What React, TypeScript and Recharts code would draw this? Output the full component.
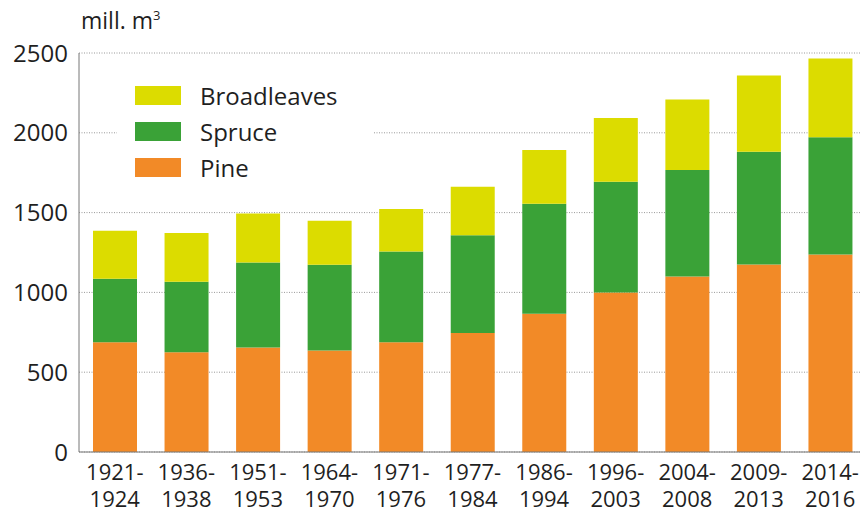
import { Bar, BarChart, CartesianGrid, XAxis, YAxis } from "recharts";

const periods = [
  "1921-1924",
  "1936-1938",
  "1951-1953",
  "1964-1970",
  "1971-1976",
  "1977-1984",
  "1986-1994",
  "1996-2003",
  "2004-2008",
  "2009-2013",
  "2014-2016",
];

// million m3 per species
const pine = [688, 625, 654, 636, 688, 746, 866, 999, 1100, 1175, 1238];
const spruce = [397, 441, 534, 537, 569, 612, 690, 695, 667, 707, 734];
const broadleaves = [301, 306, 307, 276, 266, 304, 337, 398, 441, 477, 493];

const yTicks = [0, 500, 1000, 1500, 2000, 2500];

const COLORS = {
  pine: "#F28A27",
  spruce: "#3AA237",
  broadleaves: "#DCDC00",
};

const FONT = "'Open Sans', sans-serif";
const TEXT = "#1f1f1f";

const data = periods.map((p, i) => ({
  period: p,
  pine: pine[i],
  spruce: spruce[i],
  broadleaves: broadleaves[i],
}));

const legendItems = [
  { key: "broadleaves", label: "Broadleaves" },
  { key: "spruce", label: "Spruce" },
  { key: "pine", label: "Pine" },
];

const PeriodTick = ({ x, y, payload }: any) => {
  const [a, b] = String(payload.value).split("-");
  return (
    <text
      x={x}
      y={y}
      textAnchor="middle"
      fill={TEXT}
      fontFamily={FONT}
      fontSize={22}
    >
      <tspan x={x} dy={20}>
        {a}-
      </tspan>
      <tspan x={x} dy={27}>
        {b}
      </tspan>
    </text>
  );
};

// legend box sits over the plot and hides the 2000 gridline behind it
const SpeciesLegend = () => (
  <div
    style={{
      position: "absolute",
      left: 117,
      top: 70,
      width: 257,
      height: 125,
      paddingTop: 8,
      boxSizing: "border-box",
      background: "#fff",
      zIndex: 2,
    }}
  >
    {legendItems.map((item) => (
      <div
        key={item.key}
        style={{
          display: "flex",
          alignItems: "center",
          height: 35.7,
          fontFamily: FONT,
          fontSize: 24,
          color: TEXT,
        }}
      >
        <span
          style={{
            display: "inline-block",
            width: 46,
            height: 19,
            marginLeft: 18,
            marginRight: 19,
            background: COLORS[item.key],
          }}
        />
        {item.label}
      </div>
    ))}
  </div>
);

export default function App() {
  return (
    <div
      style={{
        position: "absolute",
        left: 0,
        top: 0,
        width: 860,
        height: 513,
        overflow: "hidden",
        background: "#fff",
      }}
    >
      <div
        style={{
          position: "absolute",
          left: 81,
          top: 4,
          fontFamily: FONT,
          fontSize: 23,
          color: TEXT,
          zIndex: 2,
        }}
      >
        mill. m<sup style={{ fontSize: 13 }}>3</sup>
      </div>
      <SpeciesLegend />
      <BarChart
        width={868}
        height={513}
        data={data}
        margin={{ top: 53, right: 2, bottom: 0, left: 0 }}
        barSize={44}
      >
        <CartesianGrid
          horizontal
          vertical={false}
          stroke="#999"
          strokeDasharray="1 1.5"
        />
        <XAxis
          dataKey="period"
          height={61}
          tickLine={false}
          axisLine={{ stroke: "#777" }}
          tick={<PeriodTick />}
          interval={0}
        />
        <YAxis
          width={79}
          domain={[0, 2500]}
          ticks={yTicks}
          tickLine={false}
          tickSize={0}
          tickMargin={11}
          axisLine={{ stroke: "#777" }}
          tick={{ fill: TEXT, fontFamily: FONT, fontSize: 24 }}
        />
        <Bar dataKey="pine" stackId="s" fill={COLORS.pine} isAnimationActive={false} />
        <Bar dataKey="spruce" stackId="s" fill={COLORS.spruce} isAnimationActive={false} />
        <Bar
          dataKey="broadleaves"
          stackId="s"
          fill={COLORS.broadleaves}
          isAnimationActive={false}
        />
      </BarChart>
    </div>
  );
}
